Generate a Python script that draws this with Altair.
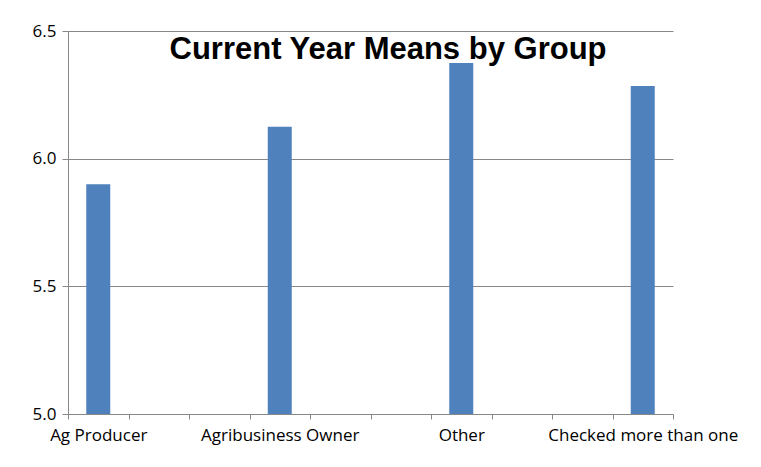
import altair as alt
import pandas as pd

slots = [f"s{i}" for i in range(10)]
groups = ["Ag Producer", "Agribusiness Owner", "Other", "Checked more than one"]
group_slots = ["s0", "s3", "s6", "s9"]
means = [5.90, 6.125, 6.375, 6.285]

df = pd.DataFrame({"slot": group_slots, "group": groups, "mean": means})

label_map = "{" + ",".join(f"'{s}':'{g}'" for s, g in zip(group_slots, groups)) + "}"

bars = alt.Chart(df).mark_bar(color="#4F81BD", size=24).encode(
    x=alt.X("slot:N", sort=slots, scale=alt.Scale(domain=slots, paddingInner=0, paddingOuter=0),
            axis=alt.Axis(title=None, labelAngle=0, tickBand="extent",
                          labelExpr=f"({label_map})[datum.value] || ''",
                          labelFontSize=17, labelColor="#000", labelPadding=8,
                          labelLimit=0, labelOverlap=False, labelFont="Open Sans",
                          tickSize=5, tickColor="#888", domainColor="#888")),
    y=alt.Y("mean:Q", scale=alt.Scale(domain=[5.0, 6.5], nice=False, zero=False),
            axis=alt.Axis(title=None, values=[5.0, 5.5, 6.0, 6.5], format=".1f",
                          labelFontSize=17, labelColor="#000", tickSize=6, tickColor="#888",
                          labelFont="Open Sans",
                          domainColor="#888", gridColor="#888", labelPadding=6)),
    y2=alt.datum(5.0),
)

title = alt.Chart(pd.DataFrame({"t": ["Current Year Means by Group"]})).mark_text(
    font="Liberation Sans", fontSize=31, fontWeight="bold", color="#000", baseline="middle"
).encode(text="t:N", x=alt.value(320), y=alt.value(19))

chart = (bars + title).properties(
    width=605, height=383,
    autosize=alt.AutoSizeParams(type="none"),
    padding={"left": 60, "top": 23, "right": 80, "bottom": 45},
).configure_view(stroke=None)

chart.save("out.html", embed_options={"renderer": "svg", "actions": False})
